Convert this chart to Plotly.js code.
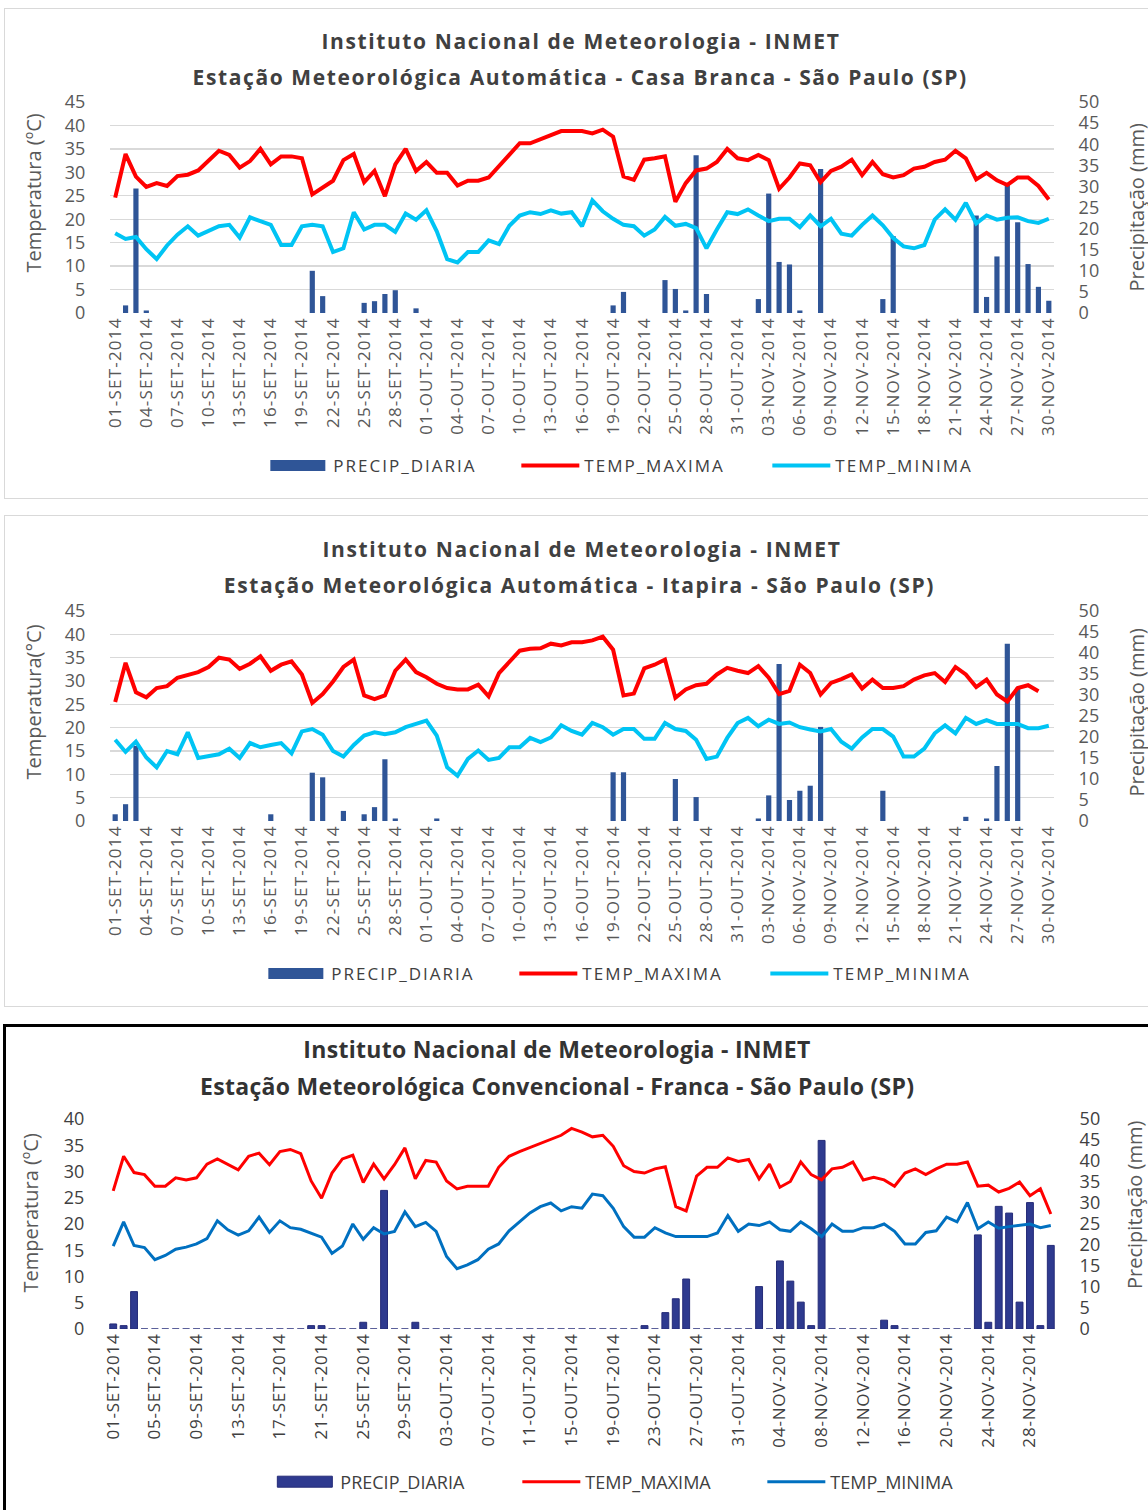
<!DOCTYPE html>
<html>
<head>
<meta charset="utf-8">
<script src="https://cdn.plot.ly/plotly-3.0.1.min.js"></script>
<style>
html,body{margin:0;padding:0;width:1148px;height:1510px;overflow:hidden;background:#fff;}
.panel{position:absolute;background:#fff;}
#p1{left:4px;top:8px;width:1160px;height:489px;border:1px solid #d9d9d9;}
#p2{left:4px;top:515px;width:1160px;height:490px;border:1px solid #d9d9d9;}
#p3{left:3px;top:1024px;width:1160px;height:500px;border:3px solid #000;}
#p1 .legendtext,#p2 .legendtext{letter-spacing:2px;}
#p1 .xtick text,#p2 .xtick text{letter-spacing:1.2px;}
#p3 .xtick text{letter-spacing:0.8px;}
#p1 .gtitle,#p2 .gtitle{letter-spacing:1.6px;}
#p1 .annotation-text.t2,#p2 .annotation-text.t2{letter-spacing:1.6px;}
#p3 .gtitle,#p3 .annotation-text.t2{letter-spacing:0.3px;}
</style>
</head>
<body>
<div id="p1" class="panel"></div>
<div id="p2" class="panel"></div>
<div id="p3" class="panel"></div>
<script>
// ---------- categories (daily dates, Sep-Nov 2014) ----------
const meses = ['SET', 'OUT', 'NOV'];
const diasPorMes = [30, 31, 30];
const dias = [];
meses.forEach((m, i) => { for (let d = 1; d <= diasPorMes[i]; d++) dias.push(String(d).padStart(2, '0') + '-' + m + '-2014'); });

const tituloGeral = 'Instituto Nacional de Meteorologia - INMET';
const tituloCasaBranca = 'Estação Meteorológica Automática - Casa Branca - São Paulo (SP)';
const tituloItapira = 'Estação Meteorológica Automática - Itapira - São Paulo (SP)';
const tituloFranca = 'Estação Meteorológica Convencional - Franca - São Paulo (SP)';
const nomesSeries = ['PRECIP_DIARIA', 'TEMP_MAXIMA', 'TEMP_MINIMA'];

// ---------- Casa Branca ----------
const cbTempMax = [24.6,33.9,29.1,26.9,27.7,27.1,29.2,29.5,30.4,32.4,
  34.6,33.7,31.0,32.4,35.0,31.7,33.4,33.4,33.0,25.3,
  26.7,28.2,32.6,33.9,27.9,30.3,24.9,31.7,35.0,30.3,
  32.2,29.9,29.9,27.2,28.2,28.2,28.9,31.4,33.7,36.2,
  36.2,37.1,37.8,38.8,38.8,38.8,38.3,39.1,37.6,29.1,
  28.4,32.7,33.0,33.4,23.7,27.7,30.4,30.8,32.2,35.0,
  33.0,32.6,33.7,32.6,26.5,28.9,31.9,31.5,27.9,30.3,
  31.2,32.7,29.4,32.2,29.6,28.9,29.4,30.8,31.2,32.2,
  32.7,34.6,33.0,28.5,29.9,28.3,27.3,28.9,28.9,27.1,
  24.2];
const cbTempMin = [17.0,15.8,16.2,13.6,11.5,14.4,16.7,18.5,16.5,17.4,
  18.5,18.8,16.1,20.4,19.7,18.8,14.5,14.5,18.5,18.8,
  18.5,13.0,13.8,21.5,17.8,18.8,18.8,17.3,21.2,19.9,
  21.9,17.4,11.5,10.8,13.0,13.0,15.5,14.7,18.6,20.8,
  21.5,21.1,21.9,21.2,21.5,18.5,24.0,21.7,20.1,18.8,
  18.5,16.5,17.8,20.5,18.6,19.0,18.1,13.8,17.8,21.5,
  21.1,22.1,20.8,19.6,20.1,20.1,18.3,20.8,18.5,20.1,
  16.9,16.5,18.8,20.8,18.7,16.0,14.2,13.8,14.5,19.9,
  22.1,19.9,23.5,19.1,20.8,19.9,20.3,20.4,19.6,19.2,
  20.1];
const cbPrecip = [0,1.8,29.5,0.6,0,0,0,0,0,0,
  0,0,0,0,0,0,0,0,0,10.0,
  4.0,0,0,0,2.4,2.8,4.5,5.4,0,1.1,
  0,0,0,0,0,0,0,0,0,0,
  0,0,0,0,0,0,0,0,1.8,5.0,
  0,0,0,7.8,5.7,0.6,37.4,4.5,0,0,
  0,0,3.3,28.3,12.1,11.5,0.6,0,34.1,0,
  0,0,0,0,3.3,18.2,0,0,0,0,
  0,0,0,23.1,3.8,13.4,30.7,21.5,11.6,6.2,
  2.9];

// ---------- Itapira ----------
const itTempMax = [25.5,33.9,27.6,26.5,28.5,28.9,30.7,31.4,31.9,33.0,
  35.0,34.6,32.6,33.7,35.3,32.2,33.5,34.2,31.4,25.3,
  27.2,29.9,33.0,34.6,26.9,26.1,26.9,32.2,34.6,31.9,
  30.8,29.4,28.5,28.2,28.2,29.2,26.7,31.7,34.2,36.5,
  36.9,37.0,38.0,37.6,38.3,38.3,38.7,39.5,36.7,26.9,
  27.3,32.7,33.5,34.6,26.4,28.2,29.1,29.4,31.4,32.8,
  32.2,31.7,33.2,30.7,27.2,27.9,33.5,31.7,27.1,29.6,
  30.4,31.4,28.4,30.3,28.5,28.5,28.9,30.3,31.2,31.7,
  29.8,33.0,31.4,28.7,30.3,27.1,25.6,28.5,29.1,27.8,
  null];
const itTempMin = [17.4,14.8,17.0,13.6,11.5,15.0,14.3,19.0,13.5,13.8,
  14.3,15.5,13.5,16.7,15.8,16.3,16.7,14.5,19.2,19.7,
  18.5,15.0,13.8,16.3,18.3,19.0,18.6,19.0,20.1,20.8,
  21.5,18.3,11.5,9.7,13.3,15.1,13.1,13.5,15.8,15.8,
  17.8,16.9,17.9,20.5,19.3,18.5,21.0,20.1,18.5,19.7,
  19.7,17.6,17.6,21.0,19.7,19.3,17.4,13.3,13.8,17.8,
  21.0,22.1,20.3,21.7,20.8,21.1,20.1,19.6,19.2,19.7,
  17.0,15.5,17.9,19.7,19.7,18.1,13.8,13.8,15.5,18.8,
  20.5,18.8,22.1,20.8,21.6,20.8,20.8,20.8,19.9,19.9,
  20.4];
const itPrecip = [1.6,4.0,17.9,0,0,0,0,0,0,0,
  0,0,0,0,0,1.6,0,0,0,11.5,
  10.4,0,2.4,0,1.6,3.3,14.7,0.6,0,0,
  0,0.6,0,0,0,0,0,0,0,0,
  0,0,0,0,0,0,0,0,11.6,11.6,
  0,0,0,0,10.0,0,5.7,0,0,0,
  0,0,0.6,6.1,37.4,5.0,7.2,8.4,22.4,0,
  0,0,0,0,7.2,0,0,0,0,0,
  0,0,1.0,0,0.6,13.1,42.2,31.7,0,0,
  0];

// ---------- Franca ----------
const frTempMax = [26.3,32.9,29.8,29.4,27.2,27.2,28.8,28.4,28.8,31.4,
  32.4,31.3,30.3,32.9,33.5,31.3,33.8,34.2,33.4,28.2,
  24.9,29.7,32.4,33.1,27.9,31.4,28.6,31.3,34.5,28.6,
  32.1,31.8,28.2,26.7,27.2,27.2,27.2,30.8,32.9,33.8,
  34.6,35.4,36.2,36.9,38.2,37.5,36.6,36.9,34.8,31.1,
  30.0,29.7,30.5,30.9,23.3,22.5,29.1,30.8,30.8,32.6,
  31.9,32.3,28.6,31.4,27.0,28.1,31.8,29.4,28.4,30.5,
  30.8,31.8,28.4,28.9,28.4,27.2,29.7,30.5,29.4,30.5,
  31.4,31.4,31.8,27.2,27.4,26.1,26.8,28.0,25.4,26.7,
  21.9];
const frTempMin = [15.8,20.4,15.9,15.5,13.2,14.0,15.2,15.6,16.2,17.2,
  20.6,18.9,17.9,18.7,21.3,18.4,20.6,19.3,19.0,18.3,
  17.5,14.4,15.8,20.0,17.1,19.3,18.1,18.6,22.3,19.5,
  20.3,18.6,13.8,11.5,12.2,13.2,15.2,16.2,18.7,20.4,
  22.1,23.3,24.0,22.5,23.3,23.0,25.7,25.4,23.0,19.5,
  17.5,17.5,19.3,18.3,17.6,17.6,17.6,17.6,18.3,21.6,
  18.6,20.0,19.7,20.4,18.9,18.6,20.4,19.1,17.6,20.0,
  18.6,18.6,19.3,19.3,20.0,18.6,16.2,16.2,18.4,18.7,
  21.3,20.4,24.1,19.1,20.4,19.2,19.5,19.8,20.0,19.3,
  19.7];
const frPrecip = [1.2,0.8,8.9,0,0,0,0,0,0,0,
  0,0,0,0,0,0,0,0,0,0.8,
  0.8,0,0,0,1.6,0,33.0,0,0,1.6,
  0,0,0,0,0,0,0,0,0,0,
  0,0,0,0,0,0,0,0,0,0,
  0,0.8,0,3.9,7.2,11.9,0,0,0,0,
  0,0,10.1,0,16.2,11.4,6.4,0.8,44.9,0,
  0,0,0,0,2.1,0.8,0,0,0,0,
  0,0,0,22.4,1.6,29.2,27.6,6.4,30.1,0.8,
  19.9];

const FONT = '"Open Sans", "Noto Sans", sans-serif';
const everyN = n => dias.filter((d, i) => i % n === 0);

function panel(id, o) {
  const W = o.W, H = o.H, l = o.l, r = o.r, t = o.t, b = o.b;
  const pw = W - l - r, ph = H - t - b;
  const px = x => (x - l) / pw, py = y => 1 - (y - t) / ph;
  const tv = everyN(o.step);
  const data = [
    {type: 'bar', name: nomesSeries[0], x: dias, y: o.precip, yaxis: 'y', width: o.barW,
     marker: {color: o.barColor, line: {color: o.barLine, width: o.barLineW}}},
    {type: 'scatter', mode: 'lines', name: nomesSeries[1], x: dias, y: o.tmax, yaxis: 'y2',
     line: {color: '#FF0000', width: o.lw}},
    {type: 'scatter', mode: 'lines', name: nomesSeries[2], x: dias, y: o.tmin, yaxis: 'y2',
     line: {color: o.minColor, width: o.lw}}
  ];
  const layout = {
    width: W, height: H,
    margin: {l: l, r: r, t: t, b: b, pad: 0, autoexpand: false},
    paper_bgcolor: '#ffffff', plot_bgcolor: 'rgba(0,0,0,0)',
    font: {family: FONT, color: '#595959'},
    showlegend: true,
    title: {text: o.t1, font: {family: FONT, size: o.titleSize, weight: 700, color: o.titleColor},
      xref: 'container', x: o.t1x / W, xanchor: 'center', yref: 'container', y: 1 - o.t1y / H, yanchor: 'middle',
      pad: {t: 0, b: 0, l: 0, r: 0}},
    xaxis: {type: 'category', categoryorder: 'array', categoryarray: dias, range: [-0.5, dias.length - 0.5],
      tickmode: 'array', tickvals: tv, ticktext: tv, tickangle: -90, ticks: '', showgrid: false,
      zeroline: false, showline: false, automargin: false, fixedrange: true,
      tickfont: {family: FONT, size: o.xtickSize, color: o.tickColor}},
    yaxis: {side: 'right', range: [0, 50], tick0: 0, dtick: 5, showgrid: false, zeroline: false, showline: false,
      ticks: 'outside', ticklen: o.ticklen, tickcolor: 'rgba(0,0,0,0)', automargin: false, fixedrange: true,
      tickfont: {family: FONT, size: o.ytickSize, color: o.tickColor}},
    yaxis2: {overlaying: 'y', side: 'left', range: [0, o.tempTop], tick0: 0, dtick: 5,
      showgrid: o.grid, gridcolor: '#D9D9D9', gridwidth: 1.3, zeroline: false, showline: false,
      ticks: 'outside', ticklen: o.ticklen, tickcolor: 'rgba(0,0,0,0)', automargin: false, fixedrange: true,
      tickfont: {family: FONT, size: o.ytickSize, color: o.tickColor}},
    legend: {orientation: 'h', x: px(o.legX), xanchor: 'left', y: py(o.legY), yanchor: 'middle',
      entrywidth: o.entryW, entrywidthmode: 'pixels', itemwidth: 58, traceorder: 'normal',
      font: {family: FONT, size: o.legSize, color: o.legColor}, bgcolor: 'rgba(0,0,0,0)', borderwidth: 0,
      itemclick: false, itemdoubleclick: false},
    annotations: [
      {text: o.t2, xref: 'paper', yref: 'paper', x: px(o.t2x), y: py(o.t2y), xanchor: 'center', yanchor: 'middle',
       showarrow: false, font: {family: FONT, size: o.titleSize, weight: 700, color: o.titleColor}},
      {text: o.yl, textangle: -90, xref: 'paper', yref: 'paper', x: px(o.ylx), y: py(o.yly), xanchor: 'center', yanchor: 'middle',
       showarrow: false, font: {family: FONT, size: o.axTitleSize, color: '#595959'}},
      {text: 'Precipitação (mm)', textangle: -90, xref: 'paper', yref: 'paper', x: px(o.yrx), y: py(o.yry), xanchor: 'center', yanchor: 'middle',
       showarrow: false, font: {family: FONT, size: o.axTitleSize, color: '#595959'}}
    ],
    hovermode: false
  };
  return Plotly.newPlot(id, data, layout, {staticPlot: true, displayModeBar: false}).then(() => {
    const gd = document.getElementById(id);
    const a = gd.querySelectorAll('.annotation-text');
    if (a[0]) a[0].classList.add('t2');
    // widen the column swatch of the legend to match the line swatch length
    const items = gd.querySelectorAll('.legend .traces');
    if (items.length >= 2) {
      const ln = items[1].querySelector('.legendlines path');
      const bp = items[0].querySelector('.legendpoints path');
      if (ln && bp) {
        const bb = ln.getBBox();
        const x0 = bb.x, x1 = bb.x + bb.width - 3;
        bp.setAttribute('transform', '');
        bp.setAttribute('d', 'M' + x0 + ',5.5H' + x1 + 'V-5.5H' + x0 + 'Z');
      }
    }
  });
}

const common12 = {W: 1160, l: 104.5, r: 110.5, b: 185, step: 3, barW: 0.5, barColor: '#2F5597', barLine: '#2F5597', barLineW: 0,
  lw: 4, minColor: '#00C4F4', tempTop: 45, grid: true, titleSize: 21, titleColor: '#404040',
  xtickSize: 17, ytickSize: 18, tickColor: '#595959', ticklen: 20, legSize: 17, legColor: '#404040', entryW: 178,
  axTitleSize: 20, t1: tituloGeral};

panel('p1', Object.assign({}, common12, {H: 489, t: 93, precip: cbPrecip, tmax: cbTempMax, tmin: cbTempMin,
  t1x: 576, t1y: 33, t2: tituloCasaBranca, t2x: 575, t2y: 68, yl: 'Temperatura (ºC)', ylx: 27, yly: 184,
  yrx: 1132, yry: 198, legX: 260, legY: 457}));

panel('p2', Object.assign({}, common12, {H: 490, t: 95, precip: itPrecip, tmax: itTempMax, tmin: itTempMin,
  t1x: 577, t1y: 34, t2: tituloItapira, t2x: 574.5, t2y: 69, yl: 'Temperatura(°C)', ylx: 27, yly: 186,
  yrx: 1132, yry: 196, legX: 258, legY: 458}));

panel('p3', {W: 1160, H: 500, l: 101.6, r: 110, t: 92, b: 198, step: 4, barW: 0.66, barColor: '#2E3A8F', barLine: '#252B78', barLineW: 1,
  lw: 3, minColor: '#0070C0', tempTop: 40, grid: false, titleSize: 23, titleColor: '#333333',
  xtickSize: 17, ytickSize: 18, tickColor: '#404040', ticklen: 19, legSize: 18, legColor: '#404040', entryW: 172,
  axTitleSize: 20, t1: tituloGeral, precip: frPrecip, tmax: frTempMax, tmin: frTempMin,
  t1x: 551, t1y: 23, t2: tituloFranca, t2x: 550.5, t2y: 59, yl: 'Temperatura (ºC)', ylx: 24, yly: 186,
  yrx: 1128, yry: 178, legX: 266, legY: 455});
</script>
</body>
</html>
